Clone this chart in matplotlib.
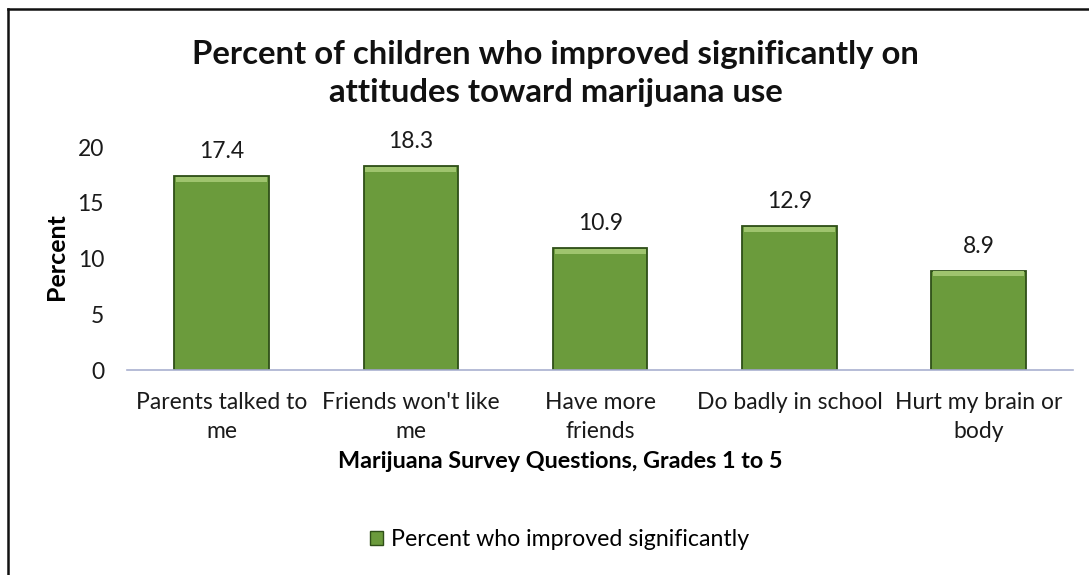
import matplotlib.pyplot as plt
from matplotlib.lines import Line2D

categories = ["Parents talked to\nme", "Friends won't like\nme", "Have more\nfriends",
              "Do badly in school", "Hurt my brain or\nbody"]
values = [17.4, 18.3, 10.9, 12.9, 8.9]
yticks = [0, 5, 10, 15, 20]

plt.rcParams['font.family'] = ['Lato', 'DejaVu Sans']

bar_face = '#6b9b3c'
bar_edge = '#2f4f18'
bevel = '#9fc46e'

fig = plt.figure(figsize=(10.89, 5.75), dpi=100)
ax = fig.add_axes([0.1166, 0.3565, 0.869, 0.3878])

x = list(range(len(categories)))
width = 0.5
bars = ax.bar(x, values, width=width, color=bar_face, edgecolor=bar_edge, linewidth=1.3, zorder=2)

# lighter bevel strip along the top of each bar
ax.bar(x, [0.45] * len(values), bottom=[v - 0.5 for v in values], width=width * 0.96,
       color=bevel, linewidth=0, zorder=3)

for xi, v in zip(x, values):
    ax.annotate(f"{v}", (xi, v), xytext=(0, 13), textcoords='offset points',
                ha='center', va='baseline', fontsize=16.5, color='#1a1a1a')

ax.set_xlim(-0.5, len(categories) - 0.5)
ax.set_ylim(0, 20)
ax.set_yticks(yticks)
ax.set_xticks(x)
ax.set_xticklabels(categories, fontsize=16.5, linespacing=1.45)
ax.tick_params(axis='both', length=0, labelsize=16.5, colors='#1a1a1a')
ax.tick_params(axis='y', pad=16.5)
ax.tick_params(axis='x', pad=16)

for s in ['top', 'right', 'left']:
    ax.spines[s].set_visible(False)
ax.spines['bottom'].set_color('#a9b0d0')
ax.spines['bottom'].set_linewidth(1.2)

ax.set_ylabel("Percent", fontsize=18, fontweight='bold')
ax.yaxis.label.set_va('center')
ax.yaxis.set_label_coords(-0.074, 0.507)

ax.set_xlabel("Marijuana Survey Questions, Grades 1 to 5", fontsize=16.8, fontweight='bold')
ax.xaxis.label.set_va('baseline')
ax.xaxis.set_label_coords(0.458, -0.44)

fig.text(0.51, 0.872, "Percent of children who improved significantly on\nattitudes toward marijuana use",
         ha='center', va='center', fontsize=23.7, fontweight='bold', linespacing=1.4,
         color='#111111')

handle = plt.Rectangle((0, 0), 1, 1, facecolor=bar_face, edgecolor=bar_edge)
fig.legend([handle], ["Percent who improved significantly"], loc='center',
           bbox_to_anchor=(0.514, 0.061), frameon=False, fontsize=16.7,
           handlelength=0.55, handleheight=0.55, handletextpad=0.35)

# chart frame
fig.add_artist(Line2D([0.0078, 0.0078], [0.0, 0.984], color='#111111', linewidth=1.8))
fig.add_artist(Line2D([0.0078, 1.0], [0.984, 0.984], color='#111111', linewidth=1.8))

fig.savefig("out.png", dpi=100)
